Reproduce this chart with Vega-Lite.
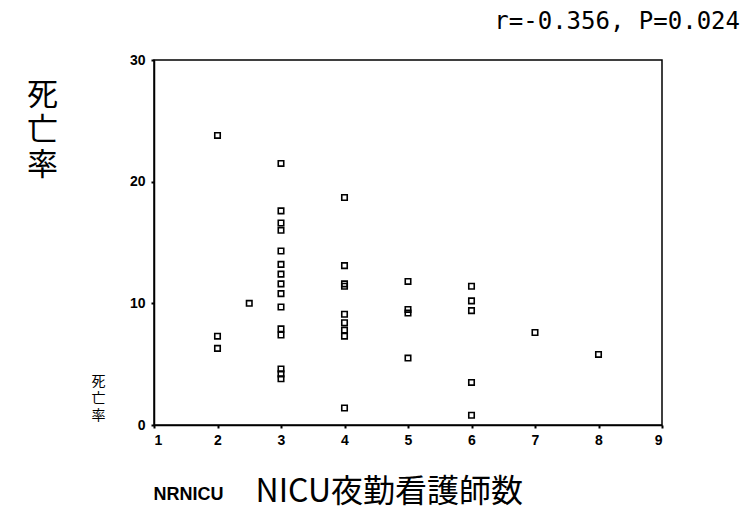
{
  "$schema": "https://vega.github.io/schema/vega-lite/v6.json",
  "width": 508,
  "height": 365,
  "autosize": {"type": "none"},
  "padding": {"left": 154, "top": 60, "right": 82, "bottom": 84},
  "background": "white",
  "config": {
    "view": {"stroke": "black", "strokeWidth": 1.5},
    "axis": {
      "grid": false,
      "domainColor": "black",
      "domainWidth": 1.5,
      "tickColor": "black",
      "tickWidth": 2,
      "tickSize": 3,
      "labelColor": "black",
      "labelFont": "Liberation Sans",
      "labelFontSize": 14,
      "labelFontWeight": "bold",
      "titleColor": "black"
    }
  },
  "title": {
    "text": "r=-0.356, P=0.024",
    "anchor": "end",
    "frame": "group",
    "dx": 78,
    "offset": 19,
    "font": "DejaVu Sans Mono",
    "fontSize": 24,
    "fontWeight": "normal",
    "color": "black"
  },
  "data": {
    "values": [
      {"nurses": 2, "mortality": 23.8},
      {"nurses": 2, "mortality": 7.3},
      {"nurses": 2, "mortality": 6.3},
      {"nurses": 2.5, "mortality": 10.0},
      {"nurses": 3, "mortality": 21.5},
      {"nurses": 3, "mortality": 17.6},
      {"nurses": 3, "mortality": 16.6},
      {"nurses": 3, "mortality": 16.0},
      {"nurses": 3, "mortality": 14.3},
      {"nurses": 3, "mortality": 13.2},
      {"nurses": 3, "mortality": 12.4},
      {"nurses": 3, "mortality": 11.6},
      {"nurses": 3, "mortality": 10.8},
      {"nurses": 3, "mortality": 9.7},
      {"nurses": 3, "mortality": 7.9},
      {"nurses": 3, "mortality": 7.4},
      {"nurses": 3, "mortality": 4.6},
      {"nurses": 3, "mortality": 4.2},
      {"nurses": 3, "mortality": 3.8},
      {"nurses": 4, "mortality": 18.7},
      {"nurses": 4, "mortality": 13.1},
      {"nurses": 4, "mortality": 11.6},
      {"nurses": 4, "mortality": 11.4},
      {"nurses": 4, "mortality": 9.1},
      {"nurses": 4, "mortality": 8.4},
      {"nurses": 4, "mortality": 7.8},
      {"nurses": 4, "mortality": 7.3},
      {"nurses": 4, "mortality": 1.4},
      {"nurses": 5, "mortality": 11.8},
      {"nurses": 5, "mortality": 9.5},
      {"nurses": 5, "mortality": 9.2},
      {"nurses": 5, "mortality": 5.5},
      {"nurses": 6, "mortality": 11.4},
      {"nurses": 6, "mortality": 10.2},
      {"nurses": 6, "mortality": 9.4},
      {"nurses": 6, "mortality": 3.5},
      {"nurses": 6, "mortality": 0.8},
      {"nurses": 7, "mortality": 7.6},
      {"nurses": 8, "mortality": 5.8}
    ]
  },
  "layer": [
    {
      "mark": {"type": "point", "shape": "square", "filled": false, "size": 30, "stroke": "black", "strokeWidth": 1.6, "opacity": 1},
      "encoding": {
        "x": {
          "field": "nurses",
          "type": "quantitative",
          "scale": {"domain": [1, 9], "nice": false, "zero": false},
          "axis": {
            "orient": "bottom",
            "values": [1, 2, 3, 4, 5, 6, 7, 8, 9],
            "labelPadding": 5,
            "title": "NRNICU",
            "titleX": -1,
            "titleY": 74,
            "titleAlign": "left",
            "titleBaseline": "alphabetic",
            "titleFont": "Liberation Sans",
            "titleFontSize": 18,
            "titleFontWeight": "bold"
          }
        },
        "y": {
          "field": "mortality",
          "type": "quantitative",
          "scale": {"domain": [0, 30], "nice": false, "zero": true},
          "axis": {
            "orient": "left",
            "values": [0, 10, 20, 30],
            "labelPadding": 6,
            "title": ["死", "亡", "率"],
            "titleAngle": 0,
            "titleX": -56,
            "titleY": 314,
            "titleAlign": "center",
            "titleBaseline": "top",
            "titleFont": "Noto Sans CJK JP",
            "titleFontSize": 14,
            "titleFontWeight": "normal",
            "titleLineHeight": 17
          }
        }
      }
    },
    {
      "mark": {"type": "point", "opacity": 0},
      "encoding": {
        "x": {
          "field": "nurses",
          "type": "quantitative",
          "axis": {
            "orient": "top",
            "labels": false,
            "ticks": false,
            "domain": false,
            "title": "NICU夜勤看護師数",
            "titleX": 101,
            "titleY": 441,
            "titleAlign": "left",
            "titleBaseline": "alphabetic",
            "titleFont": "Noto Sans CJK JP",
            "titleFontSize": 32,
            "titleFontWeight": "normal"
          }
        },
        "y": {
          "field": "mortality",
          "type": "quantitative",
          "axis": {
            "orient": "right",
            "labels": false,
            "ticks": false,
            "domain": false,
            "title": ["死", "亡", "率"],
            "titleAngle": 0,
            "titleX": -620,
            "titleY": 20,
            "titleAlign": "center",
            "titleBaseline": "top",
            "titleFont": "Noto Sans CJK JP",
            "titleFontSize": 31,
            "titleFontWeight": "normal",
            "titleLineHeight": 35
          }
        }
      }
    }
  ],
  "resolve": {"axis": {"x": "independent", "y": "independent"}}
}
